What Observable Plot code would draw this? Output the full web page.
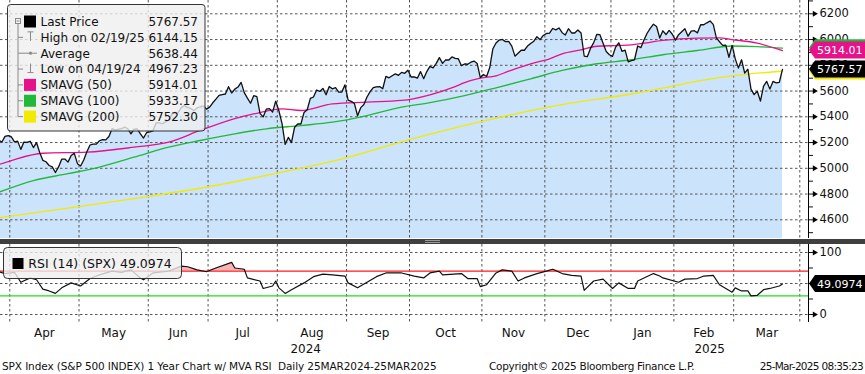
<!DOCTYPE html>
<html><head><meta charset="utf-8">
<script src="https://cdn.jsdelivr.net/npm/d3@7"></script>
<script src="https://cdn.jsdelivr.net/npm/@observablehq/plot@0.6"></script>
<style>
html,body{margin:0;padding:0;background:#fff;}
#root{position:relative;width:865px;height:374px;overflow:hidden;background:#fff;font-family:"DejaVu Sans",sans-serif;}
.abs{position:absolute;}
.foot{position:absolute;top:359px;font-size:10.5px;white-space:pre;color:#111;line-height:14px;font-family:"DejaVu Sans",sans-serif;}
</style></head><body>
<div id="root">
 <div id="top" class="abs" style="left:0;top:0"></div>
 <div id="sep" class="abs" style="left:0;top:239px;width:865px;height:5px;background:#3f3f3f"></div>
 <div id="bot" class="abs" style="left:0;top:244px"></div>
 <svg id="ov" class="abs" style="left:0;top:0" width="865" height="374"></svg>
 <div class="foot" style="left:2px;letter-spacing:-0.1px">SPX Index (S&amp;P 500 INDEX) 1 Year Chart w/ MVA RSI  Daily 25MAR2024-25MAR2025</div>
 <div class="foot" style="left:489px;letter-spacing:-0.29px">Copyright© 2025 Bloomberg Finance L.P.</div>
 <div class="foot" style="right:2px;letter-spacing:-0.7px">25-Mar-2025 08:35:23</div>
</div>
<script>
// ---- Last Price (daily closes, one per trading session from 25 Mar 2024) ----
const closeMar24 = [5218, 5204, 5248, 5254];
const closeApr24 = [5244, 5206, 5211, 5147, 5204, 5202, 5210, 5161, 5199, 5123, 5062, 5051, 5022, 5011, 4967, 5011, 5071, 5072, 5048, 5100, 5116, 5036];
const closeMay24 = [5018, 5064, 5128, 5181, 5188, 5188, 5214, 5223, 5221, 5247, 5308, 5297, 5303, 5308, 5321, 5307, 5268, 5305, 5306, 5267, 5235, 5278];
const closeJun24 = [5283, 5291, 5354, 5353, 5347, 5361, 5375, 5421, 5434, 5432, 5473, 5487, 5473, 5465, 5448, 5469, 5478, 5483, 5460];
const closeJul24 = [5475, 5509, 5537, 5567, 5573, 5577, 5634, 5585, 5615, 5631, 5667, 5588, 5545, 5505, 5564, 5556, 5427, 5399, 5459, 5464, 5436, 5522];
const closeAug24 = [5447, 5347, 5186, 5240, 5200, 5319, 5344, 5344, 5434, 5455, 5543, 5554, 5608, 5597, 5621, 5571, 5635, 5617, 5626, 5592, 5592, 5648];
const closeSep24 = [5529, 5520, 5503, 5408, 5471, 5496, 5554, 5596, 5626, 5633, 5635, 5618, 5714, 5703, 5719, 5733, 5722, 5745, 5738, 5762];
const closeOct24 = [5709, 5710, 5700, 5751, 5696, 5751, 5792, 5780, 5815, 5860, 5815, 5842, 5841, 5865, 5854, 5851, 5797, 5810, 5808, 5824, 5833, 5814, 5705];
const closeNov24 = [5729, 5713, 5783, 5929, 5973, 5996, 6001, 5984, 5985, 5949, 5871, 5894, 5917, 5917, 5949, 5969, 5987, 6022, 5999, 6032];
const closeDec24 = [6047, 6050, 6086, 6075, 6090, 6053, 6035, 6084, 6051, 6051, 6074, 6051, 5872, 5867, 5931, 5974, 6040, 6038, 5971, 5907, 5882];
const closeJan25 = [5869, 5942, 5975, 5909, 5918, 5827, 5836, 5843, 5950, 5937, 5997, 6049, 6086, 6119, 6101, 6012, 6068, 6039, 6071, 6041];
const closeFeb25 = [5995, 6038, 6061, 6084, 6026, 6066, 6069, 6052, 6115, 6115, 6130, 6144, 6118, 6013, 5983, 5955, 5956, 5862, 5955];
const closeMar25 = [5850, 5778, 5843, 5739, 5770, 5615, 5572, 5599, 5522, 5639, 5675, 5615, 5675, 5663, 5668, 5768];

// ---- moving averages (session number, value) ----
const sma50Day = [0, 4, 14, 28, 43, 54, 64, 75, 81, 90, 96, 106, 117, 128, 137, 145, 148, 153, 158, 162, 169, 175, 179, 185, 190, 197, 201, 205, 211, 222, 229, 233, 241, 249];
const sma50Val = [5029, 5060, 5117, 5125, 5164, 5203, 5294, 5386, 5422, 5462, 5449, 5501, 5514, 5527, 5571, 5635, 5665, 5700, 5718, 5754, 5812, 5850, 5889, 5920, 5948, 5954, 5959, 5972, 5993, 6011, 6013, 6000, 5972, 5914];
const sma100Day = [0, 11, 22, 32, 43, 54, 64, 75, 85, 96, 106, 117, 128, 137, 148, 158, 169, 179, 190, 201, 211, 222, 233, 241, 249];
const sma100Val = [4814, 4905, 4958, 5009, 5086, 5164, 5216, 5268, 5307, 5332, 5358, 5410, 5475, 5510, 5565, 5625, 5695, 5760, 5812, 5843, 5882, 5915, 5950, 5945, 5933];
const sma200Day = [0, 22, 43, 64, 85, 106, 128, 137, 158, 179, 201, 211, 222, 233, 249];
const sma200Val = [4616, 4690, 4765, 4845, 4945, 5055, 5205, 5265, 5390, 5495, 5577, 5622, 5677, 5718, 5754];

// ---- RSI (14) ----
const rsiDay = [0, 2, 5, 7, 10, 12, 14, 16, 18, 20, 23, 26, 29, 32, 36, 39, 42, 45, 46, 49, 54, 58, 60, 63, 66, 69, 74, 75, 78, 79, 83, 84, 87, 88, 89, 91, 93, 97, 100, 103, 106, 110, 111, 114, 117, 120, 123, 128, 132, 135, 137, 140, 141, 147, 149, 152, 153, 155, 158, 160, 163, 165, 167, 171, 174, 176, 179, 182, 185, 186, 189, 192, 195, 197, 200, 202, 203, 208, 210, 211, 216, 218, 222, 224, 227, 229, 231, 233, 234, 236, 238, 239, 241, 243, 245, 248, 249];
const rsiVal = [69, 66, 68, 52, 59, 56, 41, 38, 34, 43, 51, 46, 58, 64, 70, 68, 72, 59, 56, 67, 70, 78, 77, 72, 69, 75, 84, 75, 73, 59, 54, 42, 46, 54, 43, 34, 40, 51, 61, 65, 64, 62, 51, 43, 52, 61, 67, 67, 62, 59, 67, 70, 64, 66, 58, 58, 45, 48, 67, 72, 70, 54, 59, 66, 70, 73, 66, 63, 62, 39, 54, 57, 42, 51, 42, 42, 54, 66, 62, 59, 52, 57, 58, 62, 63, 48, 42, 36, 43, 38, 38, 30, 31, 40, 42, 46, 49.0974];
const rsiOverbought = 70;
const rsiOversold = 30;

// ---- axis / calendar ----
const monthFirstSession = [4, 26, 48, 67, 89, 111, 131, 154, 174, 195, 215, 234, 255];
const monthLabels = ["Apr", "May", "Jun", "Jul", "Aug", "Sep", "Oct", "Nov", "Dec", "Jan", "Feb", "Mar"];
const yearLabels = ["2024", "2025"];
const yearFirstSession = [0, 195];
const priceTicks = [4600, 4800, 5000, 5200, 5400, 5600, 5800, 6000, 6200];
const priceMinorTicks = [4500, 4700, 4900, 5100, 5300, 5500, 5700, 5900, 6100, 6300];
const rsiTicks = [0, 100];
const rsiMinorTicks = [25, 50, 75];
const rsiGrid = [0, 50, 100];

// ---- legend ----
const legendLabels = ["Last Price", "High on 02/19/25", "Average", "Low on 04/19/24", "SMAVG (50)", "SMAVG (100)", "SMAVG (200)"];
const legendValues = ["5767.57", "6144.15", "5638.44", "4967.23", "5914.01", "5933.17", "5752.30"];
const rsiLegend = "RSI (14) (SPX) 49.0974";

// ---- build ----
const C = {price: "#111", area: "#cbe3fb", sma50: "#e5128a", sma100: "#22b83a", sma200: "#f2ea00", grid: "#555"};
const closes = [].concat(closeMar24, closeApr24, closeMay24, closeJun24, closeJul24, closeAug24, closeSep24, closeOct24, closeNov24, closeDec24, closeJan25, closeFeb25, closeMar25);
const priceData = closes.map((v, i) => ({d: i, v}));
const zip = (ds, vs) => ds.map((d, i) => ({d, v: vs[i]}));
const sma50 = zip(sma50Day, sma50Val), sma100 = zip(sma100Day, sma100Val), sma200 = zip(sma200Day, sma200Val);
const rsi = zip(rsiDay, rsiVal);
const monthBounds = monthFirstSession.map(s => s - 0.5);
const xDomain = [0.55, 257.27];
const monthMids = monthLabels.map((label, i) => ({label, d: (monthBounds[i] + monthBounds[i + 1]) / 2}));
const yb = yearFirstSession[1] - 0.5;
const years = [{label: yearLabels[0], d: (xDomain[0] + yb) / 2}, {label: yearLabels[1], d: (yb + xDomain[1]) / 2}];

const style = {fontFamily: "'DejaVu Sans', sans-serif", fontSize: "11.5px", color: "#111", background: "transparent", overflow: "visible"};
const dotted = {stroke: C.grid, strokeDasharray: "2.5,2.5", strokeWidth: 1};
const xOpt = {domain: xDomain, range: [0, 808], axis: null};

const topPlot = Plot.plot({
  width: 865, height: 239, marginTop: 0, marginBottom: 1, marginLeft: 0, marginRight: 57,
  x: xOpt, y: {domain: [4454.8, 6303.3], label: null}, style,
  marks: [
    Plot.areaY(priceData, {x: "d", y: "v", fill: C.area, clip: true}),
    Plot.ruleY(priceTicks, dotted),
    Plot.ruleX(monthBounds, dotted),
    Plot.line(sma200, {x: "d", y: "v", stroke: C.sma200, strokeWidth: 1.3, curve: "monotone-x", clip: true}),
    Plot.line(sma100, {x: "d", y: "v", stroke: C.sma100, strokeWidth: 1.3, curve: "monotone-x", clip: true}),
    Plot.line(sma50, {x: "d", y: "v", stroke: C.sma50, strokeWidth: 1.3, curve: "monotone-x", clip: true}),
    Plot.line(priceData, {x: "d", y: "v", stroke: C.price, strokeWidth: 1.3, clip: true}),
    Plot.ruleX([xDomain[1]], {stroke: "#000"}),
    Plot.axisY({anchor: "right", ticks: priceTicks, tickSize: 4, tickPadding: 7, tickFormat: d => String(d), label: null}),
    Plot.axisY({anchor: "right", ticks: priceMinorTicks, tickSize: 4, tickFormat: () => "", label: null}),
    Plot.dot(priceTicks, {y: d => d, frameAnchor: "right", dx: 6, symbol: "triangle", rotate: 90, r: 2.2, fill: "#000", stroke: null})
  ]
});
document.getElementById("top").appendChild(topPlot);

const botPlot = Plot.plot({
  width: 865, height: 114, marginTop: 0, marginBottom: 36, marginLeft: 0, marginRight: 57,
  x: xOpt, y: {domain: [-12.9, 112.9], label: null}, style,
  marks: [
    Plot.areaY(rsi, {x: "d", y1: rsiOverbought, y2: d => Math.max(rsiOverbought, d.v), fill: "#f8b4b4"}),
    Plot.areaY(rsi, {x: "d", y1: rsiOversold, y2: d => Math.min(rsiOversold, d.v), fill: "#b8f0b8"}),
    Plot.ruleY(rsiGrid, dotted),
    Plot.ruleX(monthBounds, dotted),
    Plot.ruleY([rsiOverbought], {stroke: "#ff1a1a", strokeWidth: 1.2}),
    Plot.ruleY([rsiOversold], {stroke: "#1be01b", strokeWidth: 1.2}),
    Plot.line(rsi, {x: "d", y: "v", stroke: "#111", strokeWidth: 1.2, clip: true}),
    Plot.ruleX([xDomain[1]], {stroke: "#000"}),
    Plot.axisY({anchor: "right", ticks: rsiTicks, tickSize: 4, tickPadding: 7, tickFormat: d => String(d), label: null}),
    Plot.axisY({anchor: "right", ticks: rsiMinorTicks, tickSize: 4, tickFormat: () => "", label: null}),
    Plot.dot(rsiTicks, {y: d => d, frameAnchor: "right", dx: 6, symbol: "triangle", rotate: 90, r: 2.2, fill: "#000", stroke: null}),
    Plot.text(monthMids, {x: "d", text: "label", frameAnchor: "bottom", dy: 11, lineAnchor: "middle", fontSize: 12}),
    Plot.text(years, {x: "d", text: "label", frameAnchor: "bottom", dy: 27, lineAnchor: "middle", fontSize: 12})
  ]
});
document.getElementById("bot").appendChild(botPlot);

// ---- overlays: value tags and legends ----
const ov = d3.select("#ov");
const yTop = topPlot.scale("y"), yBot = botPlot.scale("y");
function tag(cy, fill, text) {
  ov.append("path").attr("d", `M809,${cy} L815,${cy - 8.5} L865,${cy - 8.5} L865,${cy + 8.5} L815,${cy + 8.5} Z`).attr("fill", fill);
  if (text) ov.append("text").attr("x", 817).attr("y", cy).attr("dy", "0.36em").attr("fill", "#fff")
    .attr("font-size", 11).attr("font-family", "DejaVu Sans").text(text);
}
tag(yTop.apply(+legendValues[5]), C.sma100, null);
tag(yTop.apply(+legendValues[6]), C.sma200, null);
tag(yTop.apply(+legendValues[4]), C.sma50, legendValues[4]);
tag(yTop.apply(+legendValues[0]), "#000", legendValues[0]);
tag(244 + yBot.apply(rsiVal[rsiVal.length - 1]), "#000", String(rsiVal[rsiVal.length - 1]));

// separator handle
ov.append("line").attr("x1", 425).attr("x2", 440).attr("y1", 240.5).attr("y2", 240.5).attr("stroke", "#9a9a9a");
ov.append("line").attr("x1", 425).attr("x2", 440).attr("y1", 242.5).attr("y2", 242.5).attr("stroke", "#9a9a9a");

// main legend
ov.append("rect").attr("x", 7.5).attr("y", 4.5).attr("width", 197.5).attr("height", 126.5).attr("rx", 3)
  .attr("fill", "#efefef").attr("fill-opacity", 0.8).attr("stroke", "#333");
const gL = ov.append("g").attr("font-family", "DejaVu Sans").attr("font-size", 12).attr("fill", "#111");
const rowY = i => 21.5 + i * 15.85;
const treeC = "#8a8a8a";
gL.append("rect").attr("x", 15.5).attr("y", 18.5).attr("width", 5).attr("height", 5).attr("fill", "none").attr("stroke", treeC);
gL.append("line").attr("x1", 16.5).attr("x2", 19.5).attr("y1", 21).attr("y2", 21).attr("stroke", treeC);
gL.append("line").attr("x1", 18).attr("x2", 18).attr("y1", 23.5).attr("y2", rowY(6)).attr("stroke", treeC);
const swatch = ["#000", null, null, null, C.sma50, C.sma100, C.sma200];
legendLabels.forEach((lab, i) => {
  const cy = rowY(i);
  if (i > 0) gL.append("line").attr("x1", 18).attr("x2", 23).attr("y1", cy).attr("y2", cy).attr("stroke", treeC);
  if (swatch[i]) gL.append("rect").attr("x", 24).attr("y", cy - 6).attr("width", 12).attr("height", 12).attr("fill", swatch[i]);
  if (i === 1) {
    gL.append("line").attr("x1", 27.5).attr("x2", 33.5).attr("y1", cy - 5.5).attr("y2", cy - 5.5).attr("stroke", treeC);
    gL.append("line").attr("x1", 30.5).attr("x2", 30.5).attr("y1", cy - 5.5).attr("y2", cy + 3.5).attr("stroke", treeC);
  }
  if (i === 2) {
    gL.append("line").attr("x1", 23).attr("x2", 37).attr("y1", cy).attr("y2", cy).attr("stroke", treeC);
    gL.append("circle").attr("cx", 30.5).attr("cy", cy).attr("r", 1.6).attr("fill", treeC);
  }
  if (i === 3) {
    gL.append("line").attr("x1", 27.5).attr("x2", 33.5).attr("y1", cy + 3.5).attr("y2", cy + 3.5).attr("stroke", treeC);
    gL.append("line").attr("x1", 30.5).attr("x2", 30.5).attr("y1", cy - 5.5).attr("y2", cy + 3.5).attr("stroke", treeC);
  }
  gL.append("text").attr("x", 40.5).attr("y", cy).attr("dy", "0.36em").text(lab);
  gL.append("text").attr("x", 198).attr("y", cy).attr("dy", "0.36em").attr("text-anchor", "end").text(legendValues[i]);
});

// RSI legend
ov.append("rect").attr("x", 3.5).attr("y", 247.5).attr("width", 178).attr("height", 31).attr("rx", 4)
  .attr("fill", "#efefef").attr("fill-opacity", 0.8).attr("stroke", "#333");
ov.append("rect").attr("x", 12.5).attr("y", 258).attr("width", 11).attr("height", 11).attr("fill", "#000");
ov.append("text").attr("x", 28.3).attr("y", 263.5).attr("dy", "0.36em").attr("font-family", "DejaVu Sans")
  .attr("font-size", 12.5).attr("fill", "#111").text(rsiLegend);
</script>
</body></html>
